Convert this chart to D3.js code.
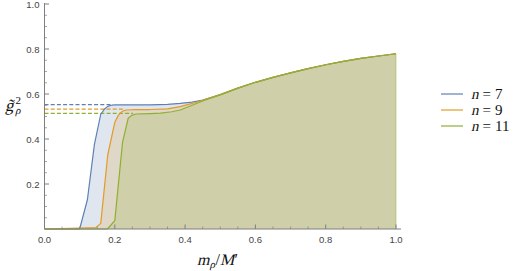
<!DOCTYPE html>
<html>
<head>
<meta charset="utf-8">
<script src="https://cdn.jsdelivr.net/npm/d3@7"></script>
<style>
  body { margin: 0; background: #fff; }
  svg { display: block; }
</style>
</head>
<body>
<svg id="chart" width="518" height="271"></svg>
<script>
// series: [m_rho/M', g~^2]
var n7 = [[0,0],[0.10,0],[0.122,0.13],[0.142,0.376],[0.16,0.51],[0.17,0.532],[0.18,0.545],[0.19,0.55],[0.2,0.552],[0.25,0.552],[0.3,0.552],[0.35,0.554],[0.386,0.558],[0.42,0.564],[0.45,0.573],[0.5,0.597],[0.55,0.626],[0.6,0.652],[0.65,0.674],[0.7,0.694],[0.75,0.713],[0.8,0.73],[0.85,0.745],[0.9,0.758],[0.95,0.769],[1.0,0.779]];
var n9 = [[0,0],[0.146,0.006],[0.16,0.025],[0.18,0.33],[0.2,0.474],[0.21,0.505],[0.22,0.522],[0.232,0.529],[0.26,0.531],[0.3,0.531],[0.35,0.534],[0.386,0.544],[0.42,0.558],[0.45,0.572],[0.5,0.597],[0.55,0.626],[0.6,0.652],[0.65,0.674],[0.7,0.694],[0.75,0.713],[0.8,0.73],[0.85,0.745],[0.9,0.758],[0.95,0.769],[1.0,0.779]];
var n11 = [[0,0],[0.179,0],[0.2,0.037],[0.222,0.385],[0.238,0.492],[0.248,0.505],[0.26,0.511],[0.3,0.513],[0.33,0.515],[0.362,0.521],[0.386,0.529],[0.42,0.55],[0.45,0.569],[0.5,0.596],[0.55,0.626],[0.6,0.652],[0.65,0.674],[0.7,0.694],[0.75,0.713],[0.8,0.73],[0.85,0.745],[0.9,0.758],[0.95,0.769],[1.0,0.779]];
var labels = ["7", "9", "11"];
var plateau = [0.553, 0.533, 0.514];
var plateauEnd = [0.195, 0.229, 0.252];
var xTicks = [0, 0.2, 0.4, 0.6, 0.8, 1.0];
var yTicks = [0.2, 0.4, 0.6, 0.8, 1.0];

var colors = ["#5e81b5", "#e19c24", "#8fb032"];
var series = [n7, n9, n11];

var svg = d3.select("#chart");
var x = d3.scaleLinear().domain([0, 1]).range([44.5, 396]);
var y = d3.scaleLinear().domain([0, 1]).range([229, 4]);

var area = d3.area()
    .x(function(d) { return x(d[0]); })
    .y0(y(0))
    .y1(function(d) { return y(d[1]); });
var line = d3.line()
    .x(function(d) { return x(d[0]); })
    .y(function(d) { return y(d[1]); });

// fills
series.forEach(function(s, i) {
  svg.append("path").attr("d", area(s))
    .attr("fill", colors[i]).attr("fill-opacity", 0.2);
});
// edge at x = 1
svg.append("line")
  .attr("x1", x(1)).attr("x2", x(1))
  .attr("y1", y(0)).attr("y2", y(n11[n11.length - 1][1]))
  .attr("stroke", "#8fb032").attr("stroke-opacity", 0.45).attr("stroke-width", 1);

// dashed plateau guides
plateau.forEach(function(v, i) {
  svg.append("line")
    .attr("x1", x(0)).attr("x2", x(plateauEnd[i]))
    .attr("y1", y(v)).attr("y2", y(v))
    .attr("stroke", colors[i]).attr("stroke-width", 1.1)
    .attr("stroke-dasharray", "4,2.2");
});

// lines
series.forEach(function(s, i) {
  svg.append("path").attr("d", line(s))
    .attr("fill", "none").attr("stroke", colors[i])
    .attr("stroke-width", 1.2).attr("stroke-linejoin", "round");
});

// axes
var axisColor = "#7f7f7f";
var g = svg.append("g");
g.append("line").attr("x1", x(0)).attr("x2", 401).attr("y1", y(0)).attr("y2", y(0))
  .attr("stroke", axisColor).attr("stroke-width", 1);
g.append("line").attr("x1", x(0)).attr("x2", x(0)).attr("y1", y(0)).attr("y2", y(1) - 1)
  .attr("stroke", axisColor).attr("stroke-width", 1);

var minor = d3.range(0, 1.0001, 0.05);
minor.forEach(function(v) {
  var major = Math.abs(v * 5 - Math.round(v * 5)) < 1e-6;
  var len = major ? 4.5 : 2.5;
  if (v > 0) {
    g.append("line").attr("x1", x(v)).attr("x2", x(v)).attr("y1", y(0)).attr("y2", y(0) - len)
      .attr("stroke", axisColor).attr("stroke-width", major ? 1 : 0.7);
    g.append("line").attr("x1", x(0)).attr("x2", x(0) + len).attr("y1", y(v)).attr("y2", y(v))
      .attr("stroke", axisColor).attr("stroke-width", major ? 1 : 0.7);
  }
});

xTicks.forEach(function(v) {
  g.append("text").attr("x", x(v)).attr("y", y(0) + 14)
    .attr("text-anchor", "middle").style("font-family", "'Liberation Sans', Arial, sans-serif")
    .attr("font-size", 9.5).attr("fill", "#444").text(d3.format(".1f")(v));
});
yTicks.forEach(function(v) {
  g.append("text").attr("x", x(0) - 5).attr("y", y(v) + 3.5)
    .attr("text-anchor", "end").style("font-family", "'Liberation Sans', Arial, sans-serif")
    .attr("font-size", 9.5).attr("fill", "#444").text(d3.format(".1f")(v));
});

// math-ish text: upright serif, italic faked with a skew
var serif = "'Liberation Serif', serif";
function mathText(parent, x0, y0, pieces) {
  var cx = x0;
  pieces.forEach(function(p) {
    var ty = y0 + (p.dy || 0);
    var px = cx + (p.dx || 0);
    var t = parent.append("text")
      .style("font-family", serif)
      .attr("font-size", p.size)
      .attr("fill", "#111")
      .text(p.t);
    if (p.it) t.attr("transform", "translate(" + px + "," + ty + ") skewX(-13)");
    else t.attr("x", px).attr("y", ty);
    cx = px + t.node().getComputedTextLength() + (p.after || 0);
  });
}

mathText(svg, 5, 111, [
  {t: "g\u0303", it: true, size: 17, after: 0},
  {t: "2", size: 11, dy: -7, dx: 2, after: -6},
  {t: "\u03c1", it: true, size: 11, dy: 3}
]);

mathText(svg, 197, 265, [
  {t: "m", it: true, size: 16},
  {t: "\u03c1", it: true, size: 11, dy: 3, after: 0.5},
  {t: "/", size: 16},
  {t: "M", it: true, size: 16, after: 0.5},
  {t: "\u2032", size: 16}
]);

// legend
labels.forEach(function(l, i) {
  var ly = 94 + i * 16;
  svg.append("line").attr("x1", 441).attr("x2", 463).attr("y1", ly).attr("y2", ly)
    .attr("stroke", colors[i]).attr("stroke-width", 1.2);
  mathText(svg, 471, ly + 4.5, [
    {t: "n", it: true, size: 15, after: 4},
    {t: "=", size: 15, after: 4},
    {t: l, size: 15}
  ]);
});
</script>
</body>
</html>
